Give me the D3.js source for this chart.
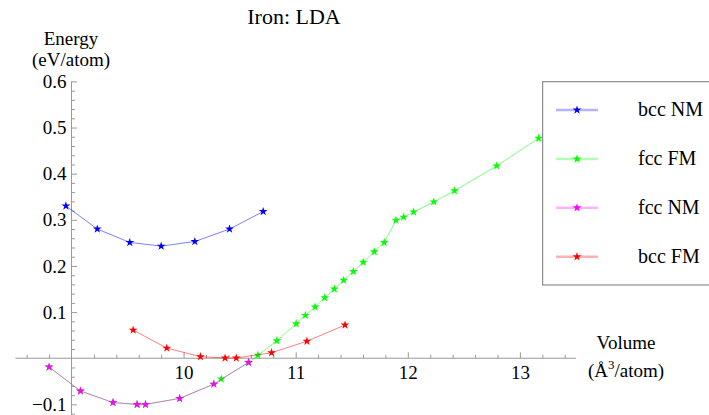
<!DOCTYPE html>
<html>
<head>
<meta charset="utf-8">
<script src="https://cdn.jsdelivr.net/npm/d3@7/dist/d3.min.js"></script>
<style>
  html, body { margin: 0; padding: 0; background: #fff; }
</style>
</head>
<body>
<svg id="chart" width="709" height="415"></svg>
<script>
// Energy vs volume for iron phases (LDA)
const bccNM_V = [8.95, 9.23, 9.52, 9.80, 10.10, 10.41, 10.71];
const bccNM_E = [0.330, 0.280, 0.251, 0.243, 0.253, 0.280, 0.318];

const fccFM_V = [8.80, 9.08, 9.37, 9.585, 9.66, 9.965, 10.27, 10.336, 10.58, 10.663, 10.832, 11.004, 11.086, 11.173, 11.259, 11.345, 11.428, 11.514, 11.602, 11.701, 11.790, 11.894, 11.963, 12.052, 12.232, 12.417, 12.793, 13.167];
const fccFM_E = [-0.019, -0.071, -0.096, -0.100, -0.100, -0.087, -0.056, -0.045, -0.009, 0.0065, 0.038, 0.075, 0.093, 0.111, 0.131, 0.150, 0.169, 0.188, 0.208, 0.231, 0.251, 0.299, 0.306, 0.317, 0.339, 0.363, 0.417, 0.477];

const fccNM_V = [8.80, 9.08, 9.37, 9.585, 9.66, 9.965, 10.27, 10.58];
const fccNM_E = [-0.019, -0.071, -0.096, -0.100, -0.100, -0.087, -0.056, -0.009];

const bccFM_V = [9.55, 9.85, 10.15, 10.37, 10.47, 10.785, 11.10, 11.44];
const bccFM_E = [0.061, 0.022, 0.0035, 0.0005, 0.0005, 0.012, 0.037, 0.072];

const seriesNames = ["bcc NM", "fcc FM", "fcc NM", "bcc FM"];
const seriesColors = ["#0000ff", "#00ff00", "#ff00ff", "#ff0000"];

const xMajorTicks = [10, 11, 12, 13];
const yMajorTicks = [-0.1, 0.1, 0.2, 0.3, 0.4, 0.5, 0.6];

const series = [
  { name: seriesNames[0], color: seriesColors[0], V: bccNM_V, E: bccNM_E },
  { name: seriesNames[1], color: seriesColors[1], V: fccFM_V, E: fccFM_E },
  { name: seriesNames[2], color: seriesColors[2], V: fccNM_V, E: fccNM_E },
  { name: seriesNames[3], color: seriesColors[3], V: bccFM_V, E: bccFM_E }
];

const svg = d3.select("#chart");
const serif = "Liberation Serif, LiberationSerif, Tinos, Noto Serif, DejaVu Serif, FreeSerif, Nimbus Roman, Times, serif";

const x = d3.scaleLinear().domain([8.5, 13.5]).range([15.45, 575.95]);
const y = d3.scaleLinear().domain([-0.123, 0.6]).range([415, 81.4]);

const axisColor = "#9a9a9a";
const x0 = x(9);     // vertical axis crosses at V = 9
const y0 = y(0);     // horizontal axis at E = 0

// minor tick values
const xMinor = d3.range(43, 68).map(i => i / 5).filter(v => !xMajorTicks.includes(v) && v !== 9);
const yMinor = d3.range(-6, 31).map(i => +(i * 0.02).toFixed(2)).filter(v => Math.abs(v * 10 - Math.round(v * 10)) > 1e-6);

// horizontal axis
const gx = svg.append("g").attr("transform", `translate(0,${y0})`);
gx.call(d3.axisBottom(x).tickValues(xMinor).tickSizeInner(-3.5).tickSizeOuter(0).tickFormat(""));
gx.call(g => g.selectAll(".domain").remove());
const gxMaj = svg.append("g").attr("transform", `translate(0,${y0})`);
gxMaj.call(d3.axisBottom(x).tickValues(xMajorTicks).tickSizeInner(-6).tickSizeOuter(0).tickPadding(7).tickFormat(d3.format("d")));
gxMaj.select(".domain").attr("d", `M${x.range()[0]},0H${x.range()[1]}`);

// vertical axis
const gy = svg.append("g").attr("transform", `translate(${x0},0)`);
gy.call(d3.axisLeft(y).tickValues(yMinor).tickSizeInner(-3.5).tickSizeOuter(0).tickFormat(""));
gy.call(g => g.selectAll(".domain").remove());
const gyMaj = svg.append("g").attr("transform", `translate(${x0},0)`);
gyMaj.call(d3.axisLeft(y).tickValues(yMajorTicks).tickSizeInner(-5.5).tickSizeOuter(0).tickPadding(5)
  .tickFormat(d => d < 0 ? "\u2212" + d3.format(".1f")(-d) : d3.format(".1f")(d)));
gyMaj.select(".domain").attr("d", `M0,${y(0.6)}V415`);

svg.selectAll("g").attr("font-family", null);
svg.selectAll(".tick line, .domain").attr("stroke", axisColor).attr("stroke-width", 1);
svg.selectAll(".tick text").attr("fill", "#000").attr("font-size", 19).style("font-family", serif);
gyMaj.selectAll(".tick text").attr("x", -5);

// axis titles and chart title
function label(xp, yp, size, txt) {
  return svg.append("text").attr("x", xp).attr("y", yp).attr("text-anchor", "middle")
    .style("font-family", serif).attr("font-size", size).text(txt);
}
label(294, 24, 22, "Iron: LDA");
label(71, 45, 19, "Energy");
label(71, 66, 19, "(eV/atom)");
label(626, 349, 19, "Volume");
const vl = label(626, 377, 19, "");
vl.append("tspan").text("(Å");
vl.append("tspan").attr("dy", -8).attr("font-size", 13).text("3");
vl.append("tspan").attr("dy", 8).text("/atom)");

// data lines and star markers
const star = d3.symbol().type(d3.symbolStar).size(24);
const line = d3.line().x(d => x(d[0])).y(d => y(d[1]));

series.forEach(s => {
  const pts = s.V.map((v, i) => [v, s.E[i]]);
  const g = svg.append("g");
  g.append("path").attr("d", line(pts)).attr("fill", "none")
    .attr("stroke", s.color).attr("stroke-opacity", 0.5).attr("stroke-width", 1);
  g.selectAll("path.pt").data(pts).join("path").attr("class", "pt")
    .attr("d", star).attr("transform", d => `translate(${x(d[0])},${y(d[1])})`)
    .attr("fill", s.color);
});

// legend
const lg = svg.append("g");
lg.append("rect").attr("x", 542.7).attr("y", 81.7).attr("width", 200).attr("height", 203.3)
  .attr("fill", "#fff").attr("stroke", "#777").attr("stroke-width", 1);
const legendY = d3.scalePoint().domain(seriesNames).range([110, 256.7]);
series.forEach(s => {
  const ly = legendY(s.name);
  lg.append("line").attr("x1", 556).attr("x2", 598).attr("y1", ly).attr("y2", ly)
    .attr("stroke", s.color).attr("stroke-opacity", 0.3).attr("stroke-width", 2.5);
  lg.append("path").attr("d", star).attr("transform", `translate(577,${ly})`).attr("fill", s.color);
  lg.append("text").attr("x", 638).attr("y", ly + 6).style("font-family", serif)
    .attr("font-size", 20).text(s.name);
});
</script>
</body>
</html>
